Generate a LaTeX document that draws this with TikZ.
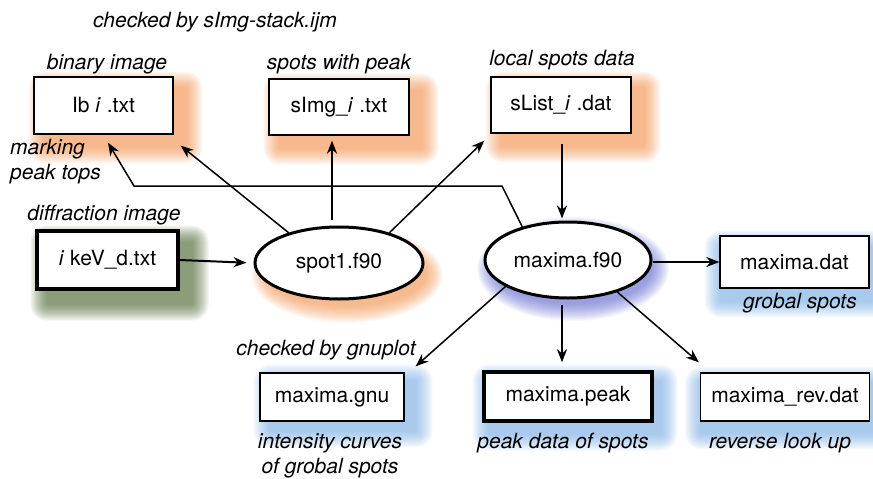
\documentclass[tikz,border=0pt]{standalone}
\usepackage{fontspec}
\setmainfont{TeX Gyre Heros}
\usetikzlibrary{shapes.geometric,arrows.meta}
\pgfdeclarelayer{bg}
\pgfsetlayers{bg,main}
\newcommand\dfont{\fontsize{21}{25}\selectfont}
\definecolor{glowor}{RGB}{240,135,60}
\definecolor{glowgr}{RGB}{60,90,30}
\definecolor{glowbl}{RGB}{110,165,225}
\definecolor{glowpu}{RGB}{80,90,200}
\newcommand\glowrect[4]{%
  \foreach \r in {1,...,17}{%
    \fill[#2, fill opacity=0.05, rounded corners=\r pt]
      ([shift={(#3-\r,#4-\r)}]#1.north west) rectangle ([shift={(#3+\r,#4+\r)}]#1.south east);
  }}
\newcommand\glowell[6]{%
  \foreach \r in {1,...,18}{%
    \fill[#2, fill opacity=0.047]
      ([shift={(#3,#4)}]#1.center) ellipse [x radius=#5+\r, y radius=#6+\r];
  }}
\tikzset{
  box/.style={draw, fill=white, line width=1.3pt, inner sep=0pt, font=\dfont},
  thickbox/.style={box, line width=3.5pt},
  oval/.style={ellipse, draw, fill=white, line width=3pt, inner sep=0pt, font=\dfont},
  lab/.style={font=\dfont\itshape, inner sep=0pt},
  arr/.style={-{Stealth[length=13pt,width=10pt]}, line width=1.5pt},
}
\begin{document}
\begin{tikzpicture}[x=1pt,y=-1pt]
\useasboundingbox (0,0) rectangle (873,479);
% nodes
\node[box, minimum width=139pt, minimum height=57pt] (ib) at (103.5,105.5) {Ib \textit{i} .txt};
\node[box, minimum width=140pt, minimum height=56pt] (simg) at (339,107) {sImg\_\textit{i} .txt};
\node[box, minimum width=140pt, minimum height=56pt] (slist) at (561,105) {sList\_\textit{i} .dat};
\node[thickbox, minimum width=141pt, minimum height=58pt] (diff) at (107.5,260) {\textit{i} keV\_d.txt};
\node[oval, minimum width=168pt, minimum height=72pt] (spot) at (339,263) {spot1.f90};
\node[oval, minimum width=166pt, minimum height=76pt] (max) at (568,260) {maxima.f90};
\node[box, minimum width=149pt, minimum height=52pt] (dat) at (794.5,262) {maxima.dat};
\node[box, minimum width=144pt, minimum height=48pt] (gnu) at (332,397) {maxima.gnu};
\node[thickbox, minimum width=168pt, minimum height=49pt] (peak) at (568,396.5) {maxima.peak};
\node[box, minimum width=169pt, minimum height=48pt] (rev) at (785,397) {maxima\_rev.dat};
% labels
\node[lab] (t0) at (215,22) {checked by sImg-stack.ijm};
\node[lab] (t1) at (107,64) {binary image};
\node[lab] (t2) at (339,64) {spots with peak};
\node[lab] (t3) at (562,60) {local spots data};
\node[lab, anchor=west, align=left] (t4) at (10,162) {marking\\peak tops};
\node[lab] (t5) at (104,215) {diffraction image};
\node[lab] (t6) at (800,303) {grobal spots};
\node[lab] (t7) at (326,350) {checked by gnuplot};
\node[lab, align=center] (t8) at (330,456) {intensity curves\\of grobal spots};
\node[lab] (t9) at (563,443) {peak data of spots};
\node[lab] (t10) at (780,443) {reverse look up};
% connectors
\coordinate (k1) at (502,186);
\coordinate (k2) at (134,186);
\draw[arr, line width=2pt, shorten >=7pt] (diff.east) -- (spot.west);
\draw[arr] (spot.149) -- ([shift={(7,11)}]ib.south east);
\draw[arr, line width=2.5pt, shorten <=6pt, shorten >=5pt] ([xshift=-7pt]spot.north) -- ([xshift=-7pt]simg.south);
\draw[arr] (spot.31) -- ([shift={(-6,7)}]slist.south west);
\draw[arr, line width=2pt, shorten <=10pt, shorten >=2pt] ([xshift=1pt]slist.south) -- ([xshift=-6pt]max.north);
\draw[arr] (max.144) -- (k1) -- (k2) -- ([shift={(4.5,8)}]ib.south);
\draw[arr, line width=2pt] (dat.west -| max.east) -- (dat.west);
\draw[arr, line width=2pt, shorten <=5pt, shorten >=8pt] ([xshift=-6pt]max.south) -- ([xshift=-6pt]peak.north);
\draw[arr] (max.-33) -- ([shift={(-1,-10)}]rev.north west);
\draw[arr] (max.203) -- ([shift={(11,-6)}]gnu.north east);
% glows
\begin{pgfonlayer}{bg}
\glowrect{ib}{glowor}{12}{12}
\glowrect{simg}{glowor}{12}{12}
\glowrect{slist}{glowor}{12}{12}
\glowrect{diff}{glowgr}{12}{13}
\glowell{spot}{glowor}{8}{12}{78}{30}
\glowell{max}{glowpu}{5}{9}{78}{34}
\glowrect{dat}{glowbl}{2}{12}
\glowrect{gnu}{glowbl}{11}{9}
\glowrect{peak}{glowbl}{7}{11}
\glowrect{rev}{glowbl}{2}{11}
\end{pgfonlayer}
\end{tikzpicture}
\end{document}
